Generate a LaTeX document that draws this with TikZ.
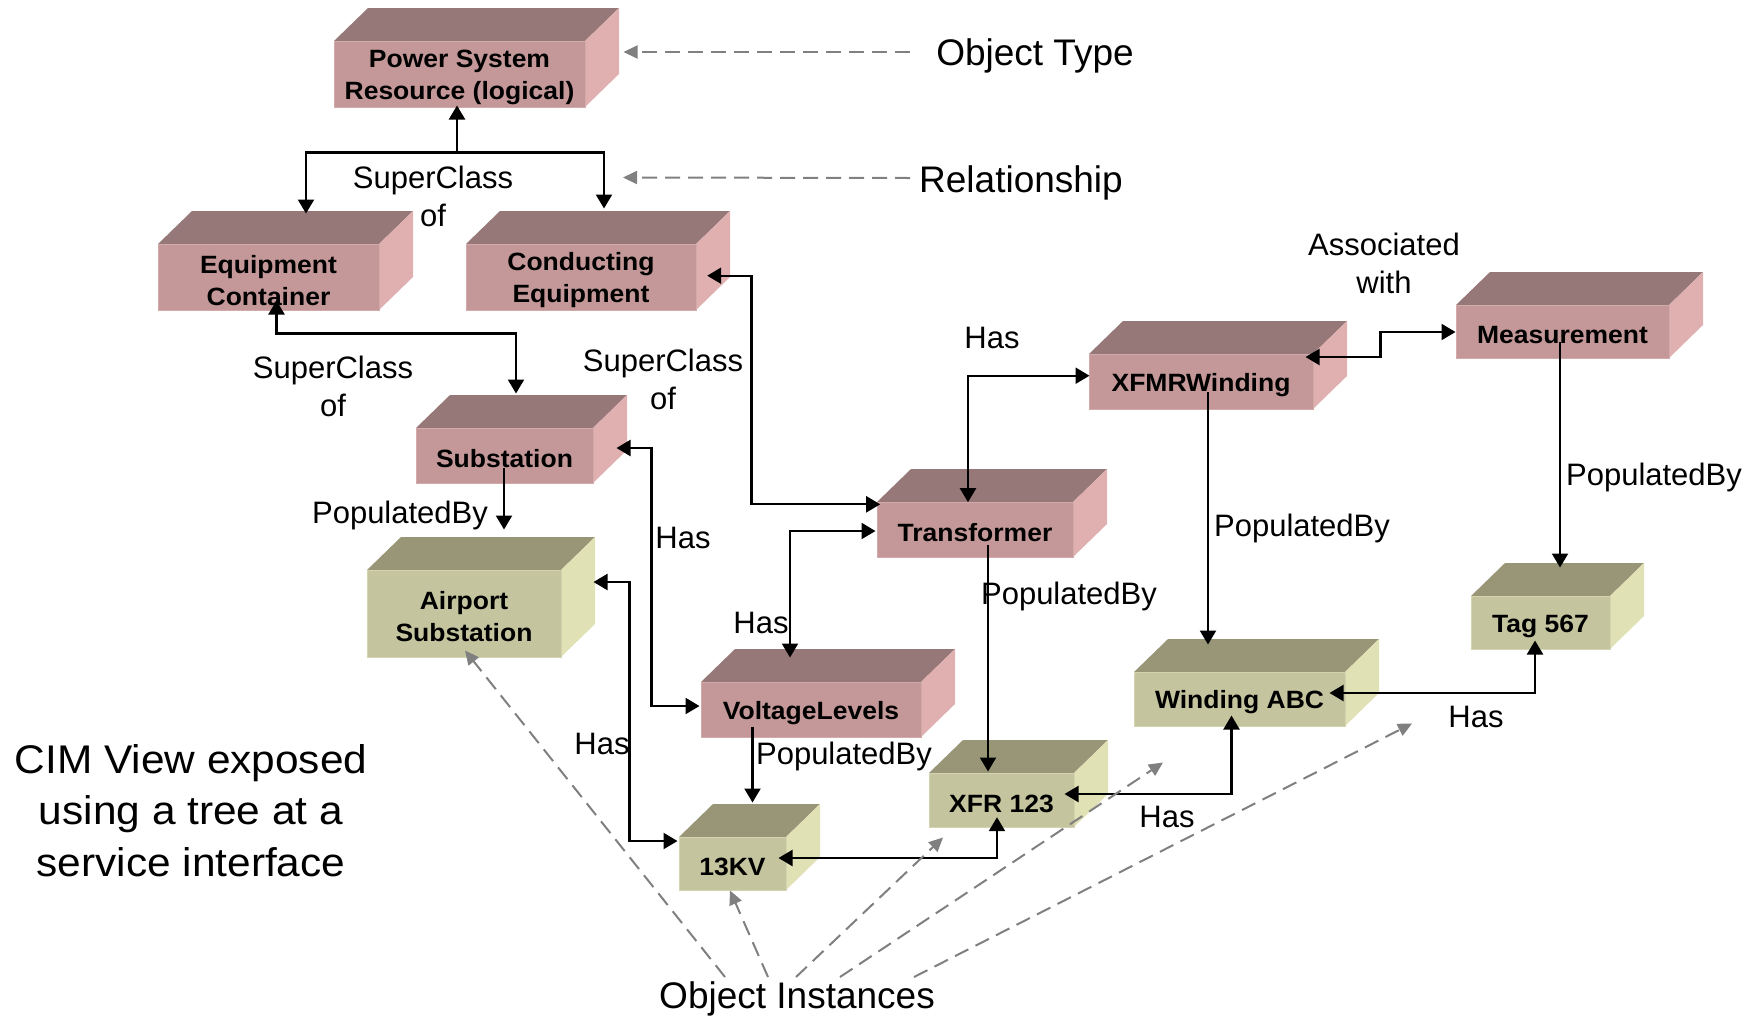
\documentclass[tikz,border=0pt]{standalone}
\usepackage{fontspec}
\setmainfont{Liberation Sans}
\newfontfamily\boxfont{Liberation Sans}[FakeStretch=1.06]
\usetikzlibrary{arrows.meta,calc}

% palettes: front face, top face, side face, front edge
\definecolor{pkfront}{RGB}{196,152,152}
\definecolor{pktop}{RGB}{150,120,120}
\definecolor{pkside}{RGB}{224,176,176}
\definecolor{pkedge}{RGB}{210,170,170}
\definecolor{olfront}{RGB}{196,196,158}
\definecolor{oltop}{RGB}{152,150,119}
\definecolor{olside}{RGB}{225,225,182}
\definecolor{oledge}{RGB}{212,212,176}
\definecolor{hint}{RGB}{128,128,128}

% a 3-D box: name, palette, left, top, right, bottom (front face), label
\newcommand\objbox[7]{%
  \fill[#2top] (#3,#4) -- ++(34,-33) -- ({#5+34},{#4-33}) -- (#5,#4) -- cycle;
  \fill[#2side] (#5,#4) -- ({#5+34},{#4-33}) -- ({#5+34},{#6-33}) -- (#5,#6) -- cycle;
  \node[objface, fill=#2front, draw=#2edge, minimum width={#5-#3},
        minimum height={#6-#4}] (#1) at ({(#3+#5)/2},{(#4+#6)/2}) {};
  \node[objtext] (#1-text) at ($(#1.center)+(0,3.5)$) {#7};
}

\begin{document}
\begin{tikzpicture}[x=1pt, y=-1pt,
  objface/.style={inner sep=0pt, line width=1pt},
  objtext/.style={inner sep=0pt, align=center,
    font=\boxfont\bfseries\fontsize{25}{32}\selectfont},
  >={Triangle[length=14pt,width=16pt]},
  conn/.style={line width=2.2pt, draw=black},
  hintarrow/.style={line width=2pt, draw=hint, dash pattern=on 15pt off 8pt,
    -{Triangle[length=14pt,width=13pt,fill=hint]}},
  lbl/.style={font=\fontsize{31}{38}\selectfont, inner sep=0pt, align=center, anchor=base},
  big/.style={font=\fontsize{37}{44}\selectfont, inner sep=0pt, anchor=base},
]
\fill[white] (0,0) rectangle (1758,1018);
\path[use as bounding box] (0,0) rectangle (1758,1018);

% ---- object types ----
\objbox{psr}{pk}{334}{41}{585}{107}{Power System\\Resource (logical)}
\objbox{ec}{pk}{158}{244}{379}{310}{Equipment\\Container}
\objbox{ce}{pk}{466}{244}{696}{310}{Conducting\\Equipment}
\objbox{sub}{pk}{416}{428}{593}{483}{Substation}
\objbox{xfw}{pk}{1089}{354}{1313}{409}{XFMRWinding}
\objbox{meas}{pk}{1456}{305}{1669}{358}{Measurement}
\objbox{trans}{pk}{877}{502}{1073}{557}{Transformer}
\objbox{vl}{pk}{701}{682}{921}{737}{VoltageLevels}

% ---- object instances ----
\objbox{air}{ol}{367}{570}{561}{657}{Airport\\Substation}
\objbox{kv}{ol}{679}{837}{786}{890}{13KV}
\objbox{xfr}{ol}{929}{773}{1074}{827}{XFR 123}
\objbox{wabc}{ol}{1134}{672}{1345}{726}{Winding ABC}
\objbox{tag}{ol}{1471}{596}{1610}{649}{Tag 567}

% ---- relationships ----
\coordinate (t1) at ($(psr.south)+(-2.5,45)$);
\draw[conn,->] (t1) -- ($(psr.south)+(-2.5,-2)$);
\draw[conn,->] (t1) -| ($(ec.north)+(37.5,-30)$);
\draw[conn,->] (t1) -| ($(ce.north)+(23,-35)$);

\draw[conn,<->] ($(ec.south)+(8,-10)$) -- ++(0,33) -| ($(sub.north)+(11.5,-34)$);
\draw[conn,<->] ($(ce.east)+(10.7,-1.3)$) -- ++(44.3,0) |- ($(trans.west)+(3.7,-25.2)$);
\draw[conn,<->] ($(sub.east)+(23,-7.5)$) -- ++(35,0) |- ($(vl.west)+(-1,-3.5)$);
\draw[conn,<->] ($(trans.west)+(-1,1.5)$) -| ($(vl.north)+(-21,-24)$);
\draw[conn,<->] ($(xfw.west)+(1,-5.8)$) -| ($(trans.north)+(-7,0.7)$);
\draw[conn,<->] ($(xfw.east)+(-8,-24.5)$) -- ++(75,0) |- ($(meas.west)+(0,0.5)$);
\draw[conn,->] ($(meas.center)+(-2.5,10.5)$) -- ($(tag.north)+(19.5,-28)$);
\draw[conn,->] ($(xfw.center)+(7,10.5)$) -- ($(wabc.north)+(-31.5,-27)$);
\draw[conn,->] ($(trans.center)+(13,15.5)$) -- ($(xfr.north)+(-13.5,-1)$);
\draw[conn,->] ($(vl.center)+(-58.5,17.5)$) -- ($(kv.north)+(20,-34)$);
\draw[conn,->] ($(sub.center)+(-0.5,12.5)$) -- ($(air.north)+(40,-40)$);
\draw[conn,<->] ($(air.east)+(32,-31.5)$) -- ++(36,0) |- ($(kv.west)+(-1,-22.5)$);
\draw[conn,<->] ($(kv.east)+(-8,-5.5)$) -| ($(xfr.south)+(-4.5,-10.3)$);
\draw[conn,<->] ($(xfr.east)+(-10,-6)$) -| ($(wabc.south)+(-8,-11)$);
\draw[conn,<->] ($(wabc.east)+(-16,-6)$) -| ($(tag.south)+(-5.5,-9)$);

% ---- relationship labels (base = last line) ----
\node[lbl] (lsc1) at (433,226) {SuperClass\\of};
\node[lbl] (lsc2) at (333,416) {SuperClass\\of};
\node[lbl] (lsc3) at (663,409) {SuperClass\\of};
\node[lbl] (lasw) at (1384,293) {Associated\\with};
\node[lbl] (h1) at (683,548) {Has};
\node[lbl] (h2) at (761,633) {Has};
\node[lbl] (h3) at (992,348) {Has};
\node[lbl] (h4) at (602,754) {Has};
\node[lbl] (h5) at (1167,827) {Has};
\node[lbl] (h6) at (1476,727) {Has};
\node[lbl] (p1) at (1654,485) {PopulatedBy};
\node[lbl] (p2) at (1302,536) {PopulatedBy};
\node[lbl] (p3) at (1069,604) {PopulatedBy};
\node[lbl] (p4) at (844,764) {PopulatedBy};
\node[lbl] (p5) at (400,523) {PopulatedBy};

% ---- legend ----
\node[big] (otype) at (1035,65) {Object Type};
\node[big] (reln) at (1021,192) {Relationship};
\node[big] (oinst) at (797,1008) {Object Instances};
\node[inner sep=0pt, align=center, anchor=base,
      font=\boxfont\fontsize{40}{51.5}\selectfont] (cim) at (191,876)
      {CIM View exposed\\using a tree at a\\service interface};

\coordinate (otTail) at (910,52);
\coordinate (rsTail) at (910,178);
\draw[hintarrow] (otTail) -- ($(psr.east)+(38,-22)$);
\draw[hintarrow] (rsTail) -- ($(ce.north)+(42,-66)$);

\coordinate (oi1) at (725,977);
\coordinate (oi2) at (768,977);
\coordinate (oi3) at (796,977);
\coordinate (oi4) at (840,977);
\coordinate (oi5) at (914,977);
\draw[hintarrow] (oi1) -- ($(air.south)+(1,-7)$);
\draw[hintarrow] (oi2) -- ($(kv.south)+(-2.5,0)$);
\draw[hintarrow] (oi3) -- ($(xfr.south)+(-58.5,10)$);
\draw[hintarrow] (oi4) -- ($(wabc.south)+(-76.5,36)$);
\draw[hintarrow] (oi5) -- ($(tag.south)+(-128.5,74)$);
\end{tikzpicture}
\end{document}
